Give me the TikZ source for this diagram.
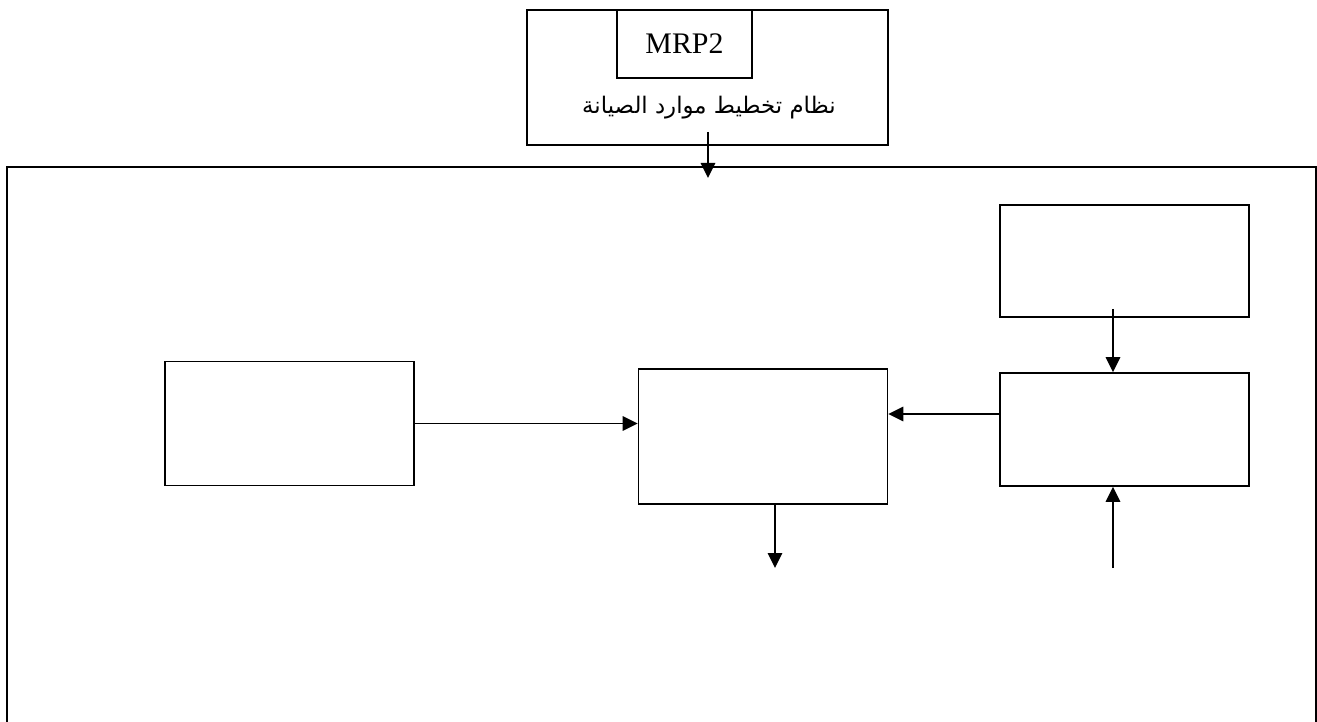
\documentclass[tikz,border=0pt]{standalone}
\usepackage{fontspec}
\setmainfont{Liberation Serif}
\newfontfamily\arabicfont[Script=Arabic]{DejaVu Sans}
\TeXXeTstate=1
\usetikzlibrary{arrows.meta}
\tikzset{box/.style={draw,line width=0.9pt,inner sep=0pt,minimum width=4.98cm},
arr/.style={line width=0.9pt,-{Triangle[length=0.3cm,width=0.29cm]}}}
\begin{document}
\begin{tikzpicture}[x=0.02cm,y=-0.02cm]
\useasboundingbox(0,0)rectangle(1317,722);
\draw[line width=0.9pt](7,722)--(7,167)--(1316,167)--(1316,722);
\node[box,minimum width=7.22cm,minimum height=2.7cm](sys)at(707.5,77.5){};
\node[box,minimum width=2.7cm,minimum height=1.36cm,font=\fontsize{17}{20}\selectfont](mrp)at(684.5,44){MRP2};
\node[font=\arabicfont\fontsize{13}{15}\selectfont](title)at(709,108){\beginR نظام تخطيط موارد الصيانة\endR};
\node[box,minimum height=2.48cm](src)at(289.5,423.5){};
\node[box,minimum height=2.7cm](mid)at(763,436.5){};
\node[box,minimum height=2.24cm](rtop)at(1124.5,261){};
\node[box,minimum height=2.26cm](rlow)at(1124.5,429.5){};
\coordinate(t1)at(708,132);
\coordinate(t2)at(708,178);
\coordinate(a1)at(1113,309);
\coordinate(c1)at(775,568);
\coordinate(c2)at(1113,568);
\draw[arr](t1)--(t2);
\draw[arr](src.east)--(src.east-|mid.west);
\draw[arr]([yshift=0.31cm]rlow.west)coordinate(r1)--(r1-|mid.east);
\draw[arr](a1)--(a1|-rlow.north);
\draw[arr](c1|-mid.south)--(c1);
\draw[arr](c2)--(c2|-rlow.south);
\end{tikzpicture}
\end{document}
